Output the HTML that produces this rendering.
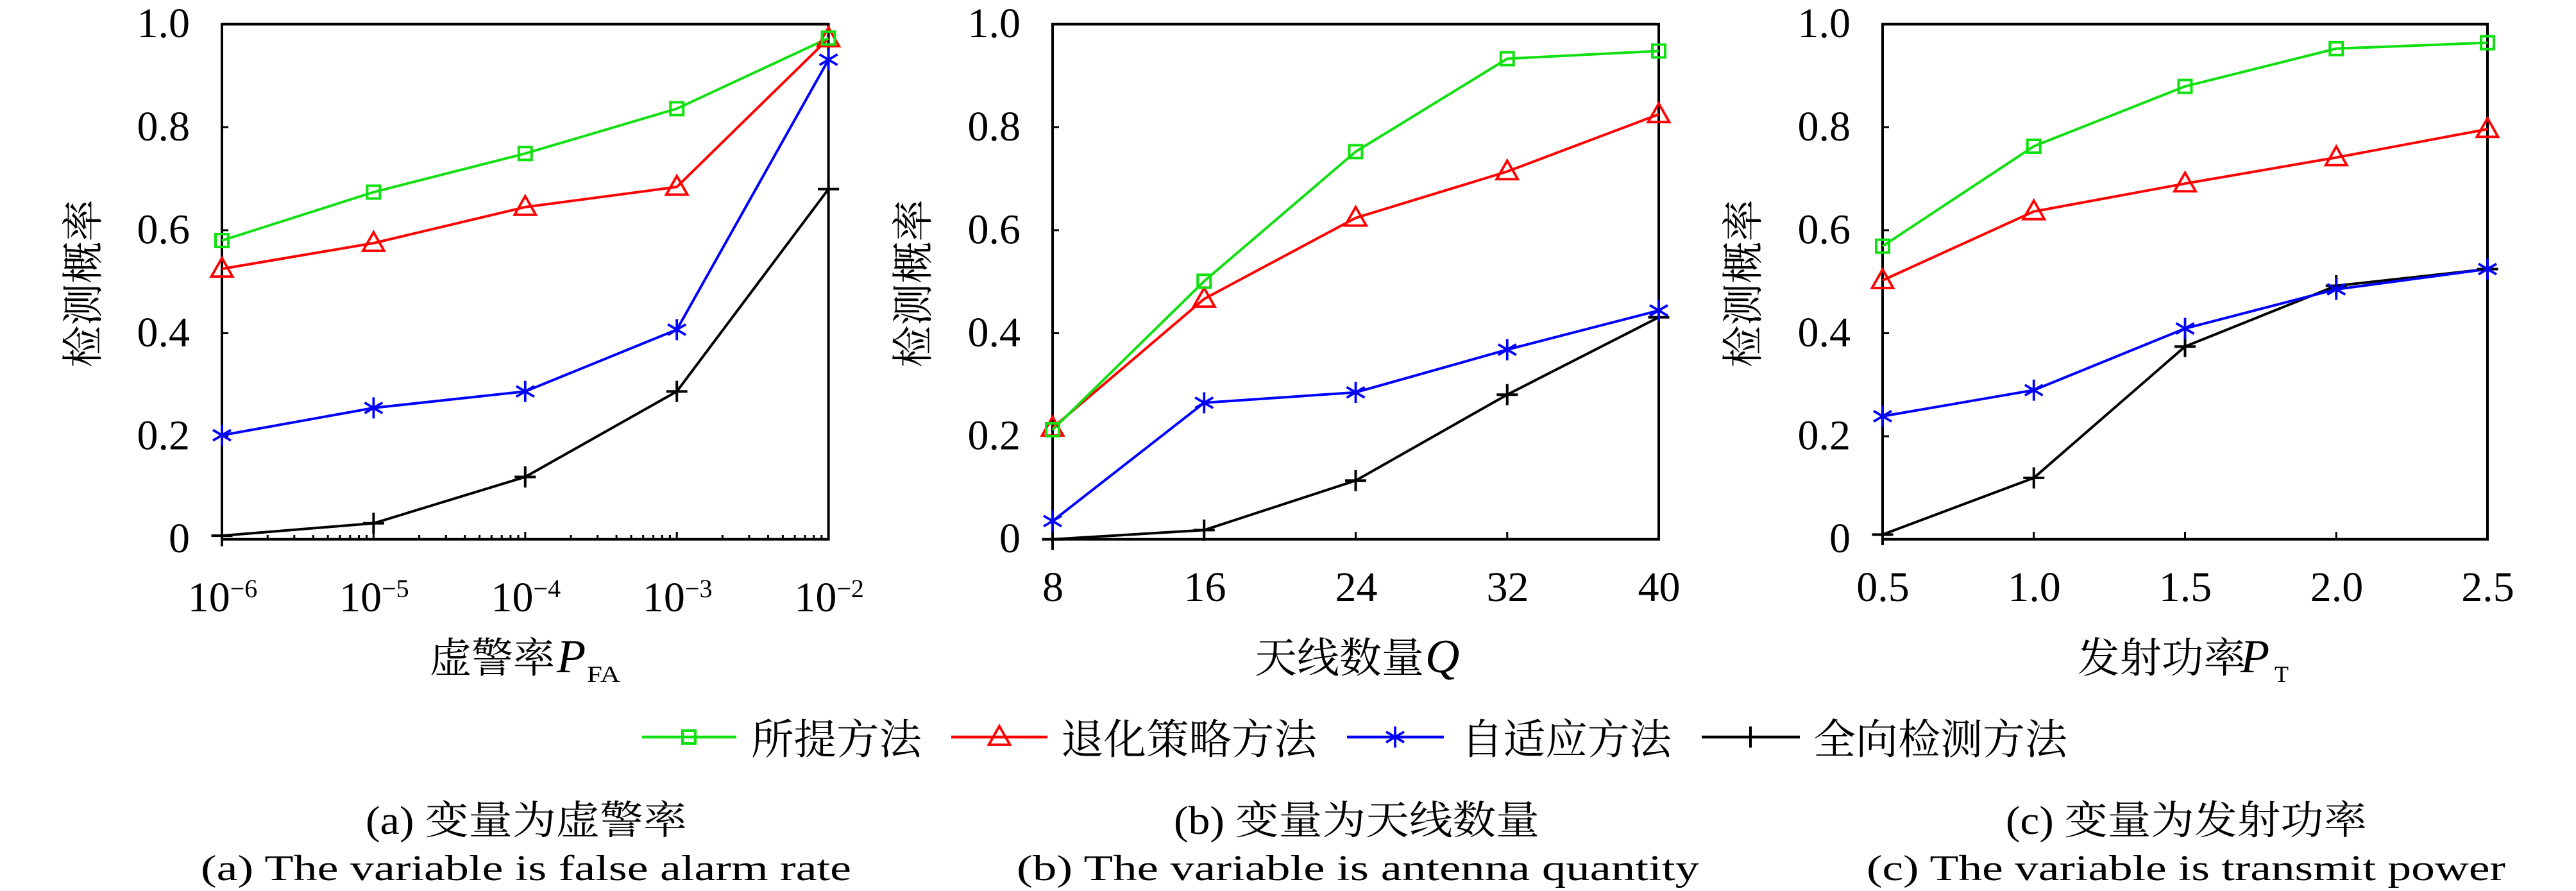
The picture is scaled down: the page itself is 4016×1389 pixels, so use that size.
<!DOCTYPE html>
<html><head><meta charset="utf-8"><style>
html,body{margin:0;padding:0;background:#fff;}
svg{display:block;}
.n{font-family:"Liberation Serif","Noto Serif CJK SC",serif;font-size:66px;fill:#000;}
.c{font-family:"Liberation Serif","Noto Serif CJK SC",serif;fill:#000;}
</style></head><body>
<svg width="4016" height="1389" viewBox="0 0 4016 1389" xmlns="http://www.w3.org/2000/svg">
<rect width="4016" height="1389" fill="#fff"/>
<defs>
<g id="sq"><rect x="-10" y="-10" width="20" height="20" fill="none" stroke="#10e010" stroke-width="4"/></g>
<g id="tr"><polygon points="0,-17 16.5,12 -16.5,12" fill="none" stroke="#ff0000" stroke-width="3.8" stroke-linejoin="miter"/></g>
<g id="as" stroke="#0000ff" stroke-width="3.8"><line x1="0" y1="-16.5" x2="0" y2="16.5"/><line x1="-14" y1="-8.2" x2="14" y2="8.2"/><line x1="-14" y1="8.2" x2="14" y2="-8.2"/></g>
<g id="pl" stroke="#000" stroke-width="4"><line x1="-16.5" y1="0" x2="16.5" y2="0"/><line x1="0" y1="-16.5" x2="0" y2="16.5"/></g>
</defs>

<!-- ================= Panel 1 ================= -->
<g fill="none" stroke="#000" stroke-width="4">
<rect x="346" y="37.7" width="945.6" height="803"/>
</g>
<g stroke="#000" stroke-width="3">
<line x1="346" y1="680.1" x2="356" y2="680.1"/><line x1="346" y1="519.5" x2="356" y2="519.5"/><line x1="346" y1="358.9" x2="356" y2="358.9"/><line x1="346" y1="198.3" x2="356" y2="198.3"/>
<line x1="582.4" y1="840.7" x2="582.4" y2="829"/><line x1="818.8" y1="840.7" x2="818.8" y2="829"/><line x1="1055.2" y1="840.7" x2="1055.2" y2="829"/>
</g>
<g stroke="#000" stroke-width="3">
<line x1="417.2" y1="840.7" x2="417.2" y2="834"/><line x1="458.8" y1="840.7" x2="458.8" y2="834"/><line x1="488.3" y1="840.7" x2="488.3" y2="834"/><line x1="511.2" y1="840.7" x2="511.2" y2="834"/><line x1="529.9" y1="840.7" x2="529.9" y2="834"/><line x1="545.8" y1="840.7" x2="545.8" y2="834"/><line x1="559.5" y1="840.7" x2="559.5" y2="834"/><line x1="571.6" y1="840.7" x2="571.6" y2="834"/>
<line x1="653.6" y1="840.7" x2="653.6" y2="834"/><line x1="695.2" y1="840.7" x2="695.2" y2="834"/><line x1="724.7" y1="840.7" x2="724.7" y2="834"/><line x1="747.6" y1="840.7" x2="747.6" y2="834"/><line x1="766.3" y1="840.7" x2="766.3" y2="834"/><line x1="782.2" y1="840.7" x2="782.2" y2="834"/><line x1="795.9" y1="840.7" x2="795.9" y2="834"/><line x1="808.0" y1="840.7" x2="808.0" y2="834"/>
<line x1="890.0" y1="840.7" x2="890.0" y2="834"/><line x1="931.6" y1="840.7" x2="931.6" y2="834"/><line x1="961.1" y1="840.7" x2="961.1" y2="834"/><line x1="984.0" y1="840.7" x2="984.0" y2="834"/><line x1="1002.7" y1="840.7" x2="1002.7" y2="834"/><line x1="1018.6" y1="840.7" x2="1018.6" y2="834"/><line x1="1032.3" y1="840.7" x2="1032.3" y2="834"/><line x1="1044.4" y1="840.7" x2="1044.4" y2="834"/>
<line x1="1126.4" y1="840.7" x2="1126.4" y2="834"/><line x1="1168.0" y1="840.7" x2="1168.0" y2="834"/><line x1="1197.5" y1="840.7" x2="1197.5" y2="834"/><line x1="1220.4" y1="840.7" x2="1220.4" y2="834"/><line x1="1239.1" y1="840.7" x2="1239.1" y2="834"/><line x1="1255.0" y1="840.7" x2="1255.0" y2="834"/><line x1="1268.7" y1="840.7" x2="1268.7" y2="834"/><line x1="1280.8" y1="840.7" x2="1280.8" y2="834"/>
</g>
<!-- series panel 1 -->
<polyline fill="none" stroke="#000" stroke-width="4" points="346,835.1 582.4,815.8 818.8,743.5 1055.2,610.2 1291.6,294.7"/>
<polyline fill="none" stroke="#0000ff" stroke-width="4" points="346,678.5 582.4,635.9 818.8,610.2 1055.2,513.9 1291.6,93.1"/>
<polyline fill="none" stroke="#ff0000" stroke-width="4" points="346,419.1 582.4,379.0 818.8,322.8 1055.2,291.4 1291.6,60"/>
<polyline fill="none" stroke="#10e010" stroke-width="4" points="346,375.0 582.4,299.5 818.8,239.3 1055.2,169.4 1291.6,59.4"/>
<use href="#pl" x="346" y="835.1"/><use href="#pl" x="582.4" y="815.8"/><use href="#pl" x="818.8" y="743.5"/><use href="#pl" x="1055.2" y="610.2"/><use href="#pl" x="1291.6" y="294.7"/>
<use href="#as" x="346" y="678.5"/><use href="#as" x="582.4" y="635.9"/><use href="#as" x="818.8" y="610.2"/><use href="#as" x="1055.2" y="513.9"/><use href="#as" x="1291.6" y="93.1"/>
<use href="#tr" x="346" y="419.1"/><use href="#tr" x="582.4" y="379.0"/><use href="#tr" x="818.8" y="322.8"/><use href="#tr" x="1055.2" y="291.4"/><use href="#tr" x="1291.6" y="60"/>
<use href="#sq" x="346" y="375.0"/><use href="#sq" x="582.4" y="299.5"/><use href="#sq" x="818.8" y="239.3"/><use href="#sq" x="1055.2" y="169.4"/><use href="#sq" x="1291.6" y="59.4"/>
<!-- labels panel 1 -->
<g class="n" text-anchor="end">
<text x="296" y="58.2">1.0</text><text x="296" y="218.8">0.8</text><text x="296" y="379.4">0.6</text><text x="296" y="540">0.4</text><text x="296" y="700.6">0.2</text><text x="296" y="861.2">0</text>
</g>
<g class="n" text-anchor="middle">
<text x="347" y="953">10<tspan font-size="40" dy="-22">−6</tspan></text>
<text x="583.4" y="953">10<tspan font-size="40" dy="-22">−5</tspan></text>
<text x="819.8" y="953">10<tspan font-size="40" dy="-22">−4</tspan></text>
<text x="1056.2" y="953">10<tspan font-size="40" dy="-22">−3</tspan></text>
<text x="1292.6" y="953">10<tspan font-size="40" dy="-22">−2</tspan></text>
</g>
<text class="c" font-size="65" x="670" y="1048" textLength="195" lengthAdjust="spacingAndGlyphs">虚警率</text>
<text class="c" font-size="74" font-style="italic" x="868" y="1048">P</text>
<text class="c" font-size="36" x="915" y="1063" textLength="52" lengthAdjust="spacingAndGlyphs">FA</text>
<text class="c" font-size="65" text-anchor="middle" transform="translate(152,442) rotate(-90)" textLength="262" lengthAdjust="spacingAndGlyphs">检测概率</text>

<!-- ================= Panel 2 ================= -->
<rect x="1641" y="37.7" width="945" height="803" fill="none" stroke="#000" stroke-width="4"/>
<g stroke="#000" stroke-width="3">
<line x1="1641" y1="680.1" x2="1651" y2="680.1"/><line x1="1641" y1="519.5" x2="1651" y2="519.5"/><line x1="1641" y1="358.9" x2="1651" y2="358.9"/><line x1="1641" y1="198.3" x2="1651" y2="198.3"/>
<line x1="1877.25" y1="840.7" x2="1877.25" y2="829"/><line x1="2113.5" y1="840.7" x2="2113.5" y2="829"/><line x1="2349.75" y1="840.7" x2="2349.75" y2="829"/>
</g>
<polyline fill="none" stroke="#000" stroke-width="4" points="1641,840.7 1877.25,826.4 2113.5,749.2 2349.75,615.2 2586,494.6"/>
<polyline fill="none" stroke="#0000ff" stroke-width="4" points="1641,812.3 1877.25,627.9 2113.5,611.7 2349.75,545.1 2586,484"/>
<polyline fill="none" stroke="#ff0000" stroke-width="4" points="1641,667 1877.25,466 2113.5,339.7 2349.75,267.4 2586,178.3"/>
<polyline fill="none" stroke="#10e010" stroke-width="4" points="1641,670 1877.25,438.4 2113.5,236.4 2349.75,91.5 2586,79.5"/>
<use href="#pl" x="1641" y="840.7"/><use href="#pl" x="1877.25" y="826.4"/><use href="#pl" x="2113.5" y="749.2"/><use href="#pl" x="2349.75" y="615.2"/><use href="#pl" x="2586" y="494.6"/>
<use href="#as" x="1641" y="812.3"/><use href="#as" x="1877.25" y="627.9"/><use href="#as" x="2113.5" y="611.7"/><use href="#as" x="2349.75" y="545.1"/><use href="#as" x="2586" y="484"/>
<use href="#tr" x="1641" y="667"/><use href="#tr" x="1877.25" y="466"/><use href="#tr" x="2113.5" y="339.7"/><use href="#tr" x="2349.75" y="267.4"/><use href="#tr" x="2586" y="178.3"/>
<use href="#sq" x="1641" y="670"/><use href="#sq" x="1877.25" y="438.4"/><use href="#sq" x="2113.5" y="236.4"/><use href="#sq" x="2349.75" y="91.5"/><use href="#sq" x="2586" y="79.5"/>
<g class="n" text-anchor="end">
<text x="1591" y="58.2">1.0</text><text x="1591" y="218.8">0.8</text><text x="1591" y="379.4">0.6</text><text x="1591" y="540">0.4</text><text x="1591" y="700.6">0.2</text><text x="1591" y="861.2">0</text>
</g>
<g class="n" text-anchor="middle">
<text x="1641.5" y="937">8</text><text x="1878.5" y="937">16</text><text x="2114.5" y="937">24</text><text x="2350.5" y="937">32</text><text x="2586.5" y="937">40</text>
</g>
<text class="c" font-size="65" x="1956" y="1048" textLength="264" lengthAdjust="spacingAndGlyphs">天线数量</text>
<text class="c" font-size="74" font-style="italic" x="2222" y="1048">Q</text>
<text class="c" font-size="65" text-anchor="middle" transform="translate(1446,442) rotate(-90)" textLength="262" lengthAdjust="spacingAndGlyphs">检测概率</text>

<!-- ================= Panel 3 ================= -->
<rect x="2935" y="37.7" width="943" height="803" fill="none" stroke="#000" stroke-width="4"/>
<g stroke="#000" stroke-width="3">
<line x1="2935" y1="680.1" x2="2945" y2="680.1"/><line x1="2935" y1="519.5" x2="2945" y2="519.5"/><line x1="2935" y1="358.9" x2="2945" y2="358.9"/><line x1="2935" y1="198.3" x2="2945" y2="198.3"/>
<line x1="3170.75" y1="840.7" x2="3170.75" y2="829"/><line x1="3406.5" y1="840.7" x2="3406.5" y2="829"/><line x1="3642.25" y1="840.7" x2="3642.25" y2="829"/>
</g>
<polyline fill="none" stroke="#000" stroke-width="4" points="2935,833.4 3170.75,745 3406.5,540.2 3642.25,445.5 3878,419.5"/>
<polyline fill="none" stroke="#0000ff" stroke-width="4" points="2935,648.9 3170.75,608.2 3406.5,512.1 3642.25,451 3878,419.5"/>
<polyline fill="none" stroke="#ff0000" stroke-width="4" points="2935,437 3170.75,329.7 3406.5,286.2 3642.25,245.5 3878,201.3"/>
<polyline fill="none" stroke="#10e010" stroke-width="4" points="2935,383.7 3170.75,228 3406.5,134.7 3642.25,75.8 3878,66.6"/>
<use href="#pl" x="2935" y="833.4"/><use href="#pl" x="3170.75" y="745"/><use href="#pl" x="3406.5" y="540.2"/><use href="#pl" x="3642.25" y="445.5"/><use href="#pl" x="3878" y="419.5"/>
<use href="#as" x="2935" y="648.9"/><use href="#as" x="3170.75" y="608.2"/><use href="#as" x="3406.5" y="512.1"/><use href="#as" x="3642.25" y="451"/><use href="#as" x="3878" y="419.5"/>
<use href="#tr" x="2935" y="437"/><use href="#tr" x="3170.75" y="329.7"/><use href="#tr" x="3406.5" y="286.2"/><use href="#tr" x="3642.25" y="245.5"/><use href="#tr" x="3878" y="201.3"/>
<use href="#sq" x="2935" y="383.7"/><use href="#sq" x="3170.75" y="228"/><use href="#sq" x="3406.5" y="134.7"/><use href="#sq" x="3642.25" y="75.8"/><use href="#sq" x="3878" y="66.6"/>
<g class="n" text-anchor="end">
<text x="2885" y="58.2">1.0</text><text x="2885" y="218.8">0.8</text><text x="2885" y="379.4">0.6</text><text x="2885" y="540">0.4</text><text x="2885" y="700.6">0.2</text><text x="2885" y="861.2">0</text>
</g>
<g class="n" text-anchor="middle">
<text x="2935.5" y="937">0.5</text><text x="3171.5" y="937">1.0</text><text x="3407" y="937">1.5</text><text x="3643" y="937">2.0</text><text x="3878.5" y="937">2.5</text>
</g>
<text class="c" font-size="65" x="3239" y="1048" textLength="262" lengthAdjust="spacingAndGlyphs">发射功率</text>
<text class="c" font-size="74" font-style="italic" x="3493" y="1048">P</text>
<text class="c" font-size="36" x="3546" y="1063">T</text>
<text class="c" font-size="65" text-anchor="middle" transform="translate(2740,442) rotate(-90)" textLength="262" lengthAdjust="spacingAndGlyphs">检测概率</text>

<!-- ================= Legend ================= -->
<line x1="1001" y1="1149" x2="1148" y2="1149" stroke="#10e010" stroke-width="4.5"/><use href="#sq" x="1074" y="1149"/>
<text class="c" font-size="65" x="1171" y="1175" textLength="266" lengthAdjust="spacingAndGlyphs">所提方法</text>
<line x1="1483" y1="1149" x2="1633" y2="1149" stroke="#ff0000" stroke-width="4.5"/><use href="#tr" x="1558" y="1149"/>
<text class="c" font-size="65" x="1654" y="1175" textLength="399" lengthAdjust="spacingAndGlyphs">退化策略方法</text>
<line x1="2100" y1="1149" x2="2251" y2="1149" stroke="#0000ff" stroke-width="4.5"/><use href="#as" x="2175" y="1149"/>
<text class="c" font-size="65" x="2278" y="1175" textLength="328" lengthAdjust="spacingAndGlyphs">自适应方法</text>
<line x1="2653" y1="1149" x2="2806" y2="1149" stroke="#000" stroke-width="4.5"/><use href="#pl" x="2729" y="1149"/>
<text class="c" font-size="65" x="2827" y="1175" textLength="396" lengthAdjust="spacingAndGlyphs">全向检测方法</text>

<!-- ================= Captions ================= -->
<text class="c" font-size="62" x="570" y="1300" textLength="501" lengthAdjust="spacingAndGlyphs">(a) 变量为虚警率</text>
<text class="c" font-size="62" x="1830" y="1300" textLength="570" lengthAdjust="spacingAndGlyphs">(b) 变量为天线数量</text>
<text class="c" font-size="62" x="3127" y="1300" textLength="563" lengthAdjust="spacingAndGlyphs">(c) 变量为发射功率</text>
<text class="c" font-size="56" x="313" y="1372" textLength="1014" lengthAdjust="spacingAndGlyphs">(a) The variable is false alarm rate</text>
<text class="c" font-size="56" x="1585" y="1372" textLength="1064" lengthAdjust="spacingAndGlyphs">(b) The variable is antenna quantity</text>
<text class="c" font-size="56" x="2910" y="1372" textLength="996" lengthAdjust="spacingAndGlyphs">(c) The variable is transmit power</text>
</svg>
</body></html>
